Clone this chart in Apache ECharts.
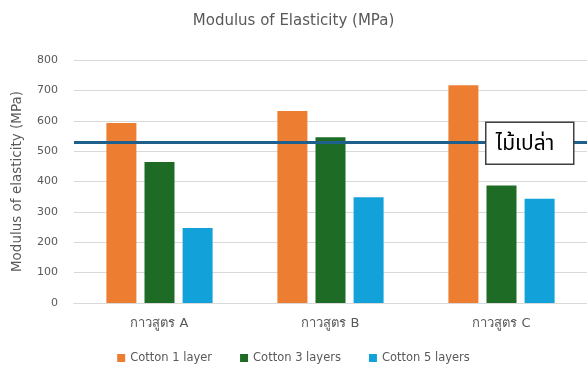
<!DOCTYPE html>
<html>
<head>
<meta charset="utf-8">
<script src="https://cdn.jsdelivr.net/npm/echarts@6/dist/echarts.min.js"></script>
<style>
  html, body { margin: 0; padding: 0; background: #fff; }
  #chart { width: 587px; height: 365px; }
</style>
</head>
<body>
<div id="chart"></div>
<script>
// Glue formulas on the category axis
const categories = ['กาวสูตร A', 'กาวสูตร B', 'กาวสูตร C'];
// Modulus of elasticity (MPa) per cotton layer count
const cotton1 = [593, 632, 717];
const cotton3 = [464, 546, 387];
const cotton5 = [247, 348, 343];
// Bare wood reference value
const bareWood = 528;
const bareWoodLabel = 'ไม้เปล่า';
const yTicks = { min: 0, max: 800, interval: 100 };

const textGrey = '#595959';
const font = '"DejaVu Sans", "Noto Sans", sans-serif';

const chart = echarts.init(document.getElementById('chart'));

const option = {
  animation: false,
  backgroundColor: '#ffffff',
  title: {
    text: 'Modulus of Elasticity (MPa)',
    left: 'center',
    top: 9,
    textStyle: { color: textGrey, fontSize: 15, fontWeight: 'normal', fontFamily: font }
  },
  legend: {
    bottom: -4,
    left: 'center',
    itemWidth: 8,
    itemHeight: 8,
    itemGap: 28,
    icon: 'rect',
    textStyle: { color: textGrey, fontSize: 11.5, fontFamily: font }
  },
  grid: { left: 74, right: -3, top: 60, bottom: 62, containLabel: false },
  xAxis: {
    type: 'category',
    data: categories,
    axisLine: { lineStyle: { color: '#d9d9d9' } },
    axisTick: { show: false },
    axisLabel: { color: textGrey, fontSize: 13, margin: 14, fontFamily: font }
  },
  yAxis: {
    type: 'value',
    min: yTicks.min,
    max: yTicks.max,
    interval: yTicks.interval,
    name: 'Modulus of elasticity (MPa)',
    nameLocation: 'middle',
    nameGap: 50,
    nameTextStyle: { color: textGrey, fontSize: 13.5, fontFamily: font },
    axisLine: { show: false },
    axisTick: { show: false },
    axisLabel: { color: textGrey, fontSize: 11, margin: 16, fontFamily: font },
    splitLine: { lineStyle: { color: '#d9d9d9', width: 1 } }
  },
  series: [
    {
      name: 'Cotton 1 layer', type: 'bar', data: cotton1,
      itemStyle: { color: '#ED7D31' },
      barWidth: 30, barGap: '27%', barCategoryGap: '38%',
      markLine: {
        silent: true,
        symbol: 'none',
        label: { show: false },
        lineStyle: { color: '#1F5F8B', width: 3, type: 'solid' },
        data: [{ yAxis: bareWood }]
      }
    },
    {
      name: 'Cotton 3 layers', type: 'bar', data: cotton3,
      itemStyle: { color: '#1E6B25' },
      barWidth: 30, barGap: '27%'
    },
    {
      name: 'Cotton 5 layers', type: 'bar', data: cotton5,
      itemStyle: { color: '#13A1D9' },
      barWidth: 30, barGap: '27%'
    }
  ]
};

chart.setOption(option);

// Label box for the reference line, placed at the line's value and drawn over it
const lineY = chart.convertToPixel({ yAxisIndex: 0 }, bareWood);
const boxW = 88, boxH = 42, boxLeft = 485;
chart.setOption({
  graphic: [{
    type: 'group',
    left: boxLeft,
    top: lineY - boxH / 2,
    z: 1000,
    children: [
      {
        type: 'rect',
        z: 1000,
        shape: { x: 0, y: 0, width: boxW, height: boxH },
        style: { fill: '#ffffff', stroke: '#404040', lineWidth: 1.5 }
      },
      {
        type: 'text',
        z: 1001,
        x: 10,
        y: boxH / 2 + 2,
        style: {
          text: bareWoodLabel,
          fill: '#000000',
          fontSize: 21,
          fontFamily: '"Noto Sans Thai", "Noto Sans", sans-serif',
          verticalAlign: 'middle'
        }
      }
    ]
  }]
});
</script>
</body>
</html>
